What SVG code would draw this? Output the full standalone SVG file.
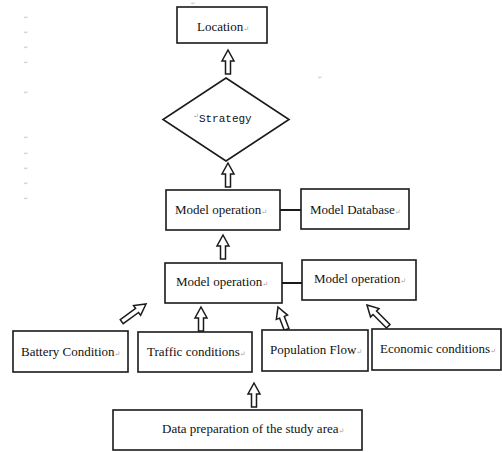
<svg xmlns="http://www.w3.org/2000/svg" xmlns:xlink="http://www.w3.org/1999/xlink" width="502" height="452" viewBox="0 0 502 452">
  <style>
    .box { fill: #fff; stroke: #1a1a1a; stroke-width: 1.6; }
    .lbl { font-size: 13px; fill: #111; }
    .mono { font-size: 11px; fill: #111; }
    .ret { font-size: 7px; fill: #999; }
    .pm { font-size: 5px; fill: #bbb; }
    .link { stroke: #1a1a1a; stroke-width: 2; fill: none; }
    .arr { fill: #fff; stroke: #1a1a1a; stroke-width: 1.5; stroke-linejoin: miter; }
  </style>
  <defs>
    <!-- hollow block arrow pointing up, tip at origin -->
    <path id="arr24" class="arr" d="M0,0 L6,11 L2.5,11 L2.5,24 L-2.5,24 L-2.5,11 L-6,11 Z"/>
    <path id="arr30" class="arr" d="M0,0 L6,11 L2.5,11 L2.5,30 L-2.5,30 L-2.5,11 L-6,11 Z"/>
  </defs>

  <rect width="502" height="452" fill="#fff"/>

  <!-- paragraph marks in the margin -->
  <g id="marks" font-family="DejaVu Sans, sans-serif">
    <text class="pm" x="24" y="19">↵</text>
    <text class="pm" x="24" y="34">↵</text>
    <text class="pm" x="24" y="49">↵</text>
    <text class="pm" x="24" y="64">↵</text>
    <text class="pm" x="24" y="94">↵</text>
    <text class="pm" x="24" y="139">↵</text>
    <text class="pm" x="24" y="155">↵</text>
    <text class="pm" x="24" y="170">↵</text>
    <text class="pm" x="24" y="185">↵</text>
    <text class="pm" x="24" y="200">↵</text>
    <text class="pm" x="191" y="5">↵</text>
    <text class="pm" x="318" y="79">↵</text>
  </g>

  <!-- connectors -->
  <g id="connectors">
    <use xlink:href="#arr24" transform="translate(228,50)"/>
    <use xlink:href="#arr24" transform="translate(228,163)"/>
    <use xlink:href="#arr24" transform="translate(223,235)"/>
    <use xlink:href="#arr24" transform="translate(201,307)"/>
    <use xlink:href="#arr24" transform="translate(254,383)"/>
    <use xlink:href="#arr30" transform="translate(146,304) rotate(54)"/>
    <use xlink:href="#arr24" transform="translate(278,307) rotate(-21)"/>
    <use xlink:href="#arr30" transform="translate(367,305) rotate(-45)"/>
    <line class="link" x1="280" y1="210" x2="301" y2="210"/>
    <line class="link" x1="282" y1="283" x2="302" y2="283"/>
  </g>

  <g font-family="'Liberation Serif', 'DejaVu Serif', serif">
    <g id="location">
      <rect class="box" x="177" y="7" width="90" height="36"/>
      <text class="lbl" x="197" y="31">Location<tspan class="ret">↵</tspan></text>
    </g>

    <g id="strategy">
      <polygon class="box" points="226,78 289,119.5 226,161 163,119.5"/>
      <text x="193" y="118"><tspan class="ret">↵</tspan><tspan class="mono" y="122" font-family="'Liberation Mono', monospace">Strategy</tspan></text>
    </g>

    <g id="model-operation-upper">
      <rect class="box" x="166" y="190" width="114" height="40"/>
      <text class="lbl" x="175" y="214">Model operation<tspan class="ret">↵</tspan></text>
    </g>

    <g id="model-database">
      <rect class="box" x="301" y="189" width="108" height="40"/>
      <text class="lbl" x="310" y="214">Model Database<tspan class="ret">↵</tspan></text>
    </g>

    <g id="model-operation-lower">
      <rect class="box" x="165" y="263" width="117" height="40"/>
      <text class="lbl" x="176" y="286">Model operation<tspan class="ret">↵</tspan></text>
    </g>

    <g id="model-operation-side">
      <rect class="box" x="302" y="260" width="114" height="40"/>
      <text class="lbl" x="314" y="283">Model operation<tspan class="ret">↵</tspan></text>
    </g>

    <g id="battery">
      <rect class="box" x="13" y="331" width="115" height="41"/>
      <text class="lbl" x="21" y="356">Battery Condition<tspan class="ret">↵</tspan></text>
    </g>

    <g id="traffic">
      <rect class="box" x="138" y="332" width="114" height="40"/>
      <text class="lbl" x="147" y="356">Traffic conditions<tspan class="ret">↵</tspan></text>
    </g>

    <g id="population">
      <rect class="box" x="262" y="330" width="106" height="41"/>
      <text class="lbl" x="270" y="354">Population Flow<tspan class="ret">↵</tspan></text>
    </g>

    <g id="economic">
      <rect class="box" x="372" y="329" width="129" height="41"/>
      <text class="lbl" x="380" y="353">Economic conditions<tspan class="ret">↵</tspan></text>
    </g>

    <g id="data-preparation">
      <rect class="box" x="113" y="410" width="249" height="40"/>
      <text class="lbl" x="162" y="433">Data preparation of the study area<tspan class="ret">↵</tspan></text>
    </g>
  </g>
</svg>
